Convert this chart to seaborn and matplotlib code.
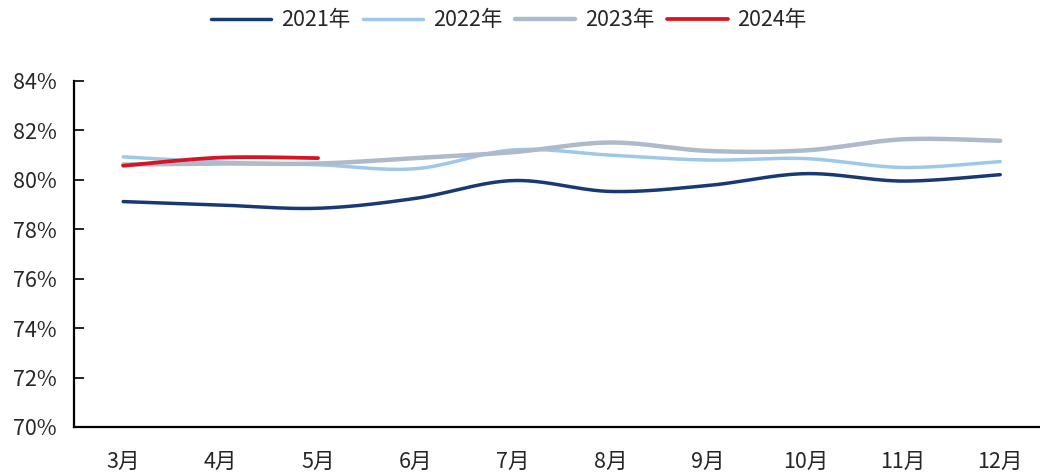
import numpy as np
import pandas as pd
import matplotlib
matplotlib.use("Agg")
import matplotlib.pyplot as plt
import seaborn as sns

months = ["3月", "4月", "5月", "6月", "7月", "8月", "9月", "10月", "11月", "12月"]
y2021 = [79.12, 78.98, 78.85, 79.25, 79.97, 79.53, 79.77, 80.25, 79.95, 80.21]
y2022 = [80.93, 80.72, 80.61, 80.45, 81.21, 81.00, 80.80, 80.86, 80.50, 80.74]
y2023 = [80.62, 80.66, 80.66, 80.88, 81.12, 81.51, 81.17, 81.19, 81.64, 81.58]
y2024 = [80.57, 80.90, 80.88]
series_names = ["2021年", "2022年", "2023年", "2024年"]
yticks = [70, 72, 74, 76, 78, 80, 82, 84]

colors = ["#173A73", "#9DC8E8", "#AEBACB", "#DC1220"]
widths = [2.5, 2.5, 3.2, 2.7]

sns.set_theme(style="white")
plt.rcParams["font.family"] = ["Noto Sans CJK SC", "DejaVu Sans"]

FS = 15.5


def smooth(vals, n=30):
    """Excel-style smoothed curve through the given points (Bezier, tension 1/6)."""
    x = np.arange(len(vals), dtype=float)
    y = np.asarray(vals, dtype=float)
    if len(y) < 2:
        return x, y
    xs, ys = [], []
    t = np.linspace(0, 1, n)
    m = len(y)
    for i in range(m - 1):
        p0 = np.array([x[i], y[i]])
        p3 = np.array([x[i + 1], y[i + 1]])
        pm = np.array([x[i - 1], y[i - 1]]) if i > 0 else p0
        pp = np.array([x[i + 2], y[i + 2]]) if i + 2 < m else p3
        p1 = p0 + (p3 - pm) / 6.0
        p2 = p3 - (pp - p0) / 6.0
        b = (((1 - t) ** 3)[:, None] * p0 + (3 * (1 - t) ** 2 * t)[:, None] * p1
             + (3 * (1 - t) * t ** 2)[:, None] * p2 + (t ** 3)[:, None] * p3)
        if i > 0:
            b = b[1:]
        xs.append(b[:, 0])
        ys.append(b[:, 1])
    return np.concatenate(xs), np.concatenate(ys)


frames = []
for name, vals in zip(series_names, [y2021, y2022, y2023, y2024]):
    sx, sy = smooth(vals)
    frames.append(pd.DataFrame({"x": sx, "y": sy, "series": name}))
df = pd.concat(frames, ignore_index=True)

fig = plt.figure(figsize=(10.4, 4.73), dpi=100)
ax = fig.add_axes([0.0716, 0.0973, 0.937, 0.7315])

for name, c, lw in zip(series_names, colors, widths):
    sub = df[df["series"] == name]
    sns.lineplot(data=sub, x="x", y="y", ax=ax, color=c, linewidth=lw,
                 label=name, sort=False, estimator=None)

ax.set_xlim(-0.5, len(months) - 0.5)
ax.set_ylim(70, 84)
ax.set_yticks(yticks)
ax.set_yticklabels([f"{v}%" for v in yticks], fontsize=FS)
ax.set_xticks(np.arange(-0.5, len(months), 1.0))
ax.set_xticklabels([])
ax.set_xticks(np.arange(len(months)), minor=True)
ax.set_xticklabels(months, minor=True, fontsize=FS)
ax.tick_params(axis="x", which="major", direction="in", length=7.5, width=1.2, color="black")
ax.tick_params(axis="x", which="minor", length=0, pad=17)
ax.tick_params(axis="y", direction="in", length=7.5, width=1.2, color="black", pad=13, left=True)
ax.set_xlabel("")
ax.set_ylabel("")
for s in ["top", "right"]:
    ax.spines[s].set_visible(False)
for s in ["left", "bottom"]:
    ax.spines[s].set_color("black")
    ax.spines[s].set_linewidth(1.6)

handles, labels = ax.get_legend_handles_labels()
ax.legend(handles, labels, loc="center", bbox_to_anchor=(0.489, 0.957),
          bbox_transform=fig.transFigure, ncol=4, frameon=False, fontsize=FS,
          handlelength=2.8, handletextpad=0.45, columnspacing=0.6)

fig.savefig("out.png", dpi=100)
